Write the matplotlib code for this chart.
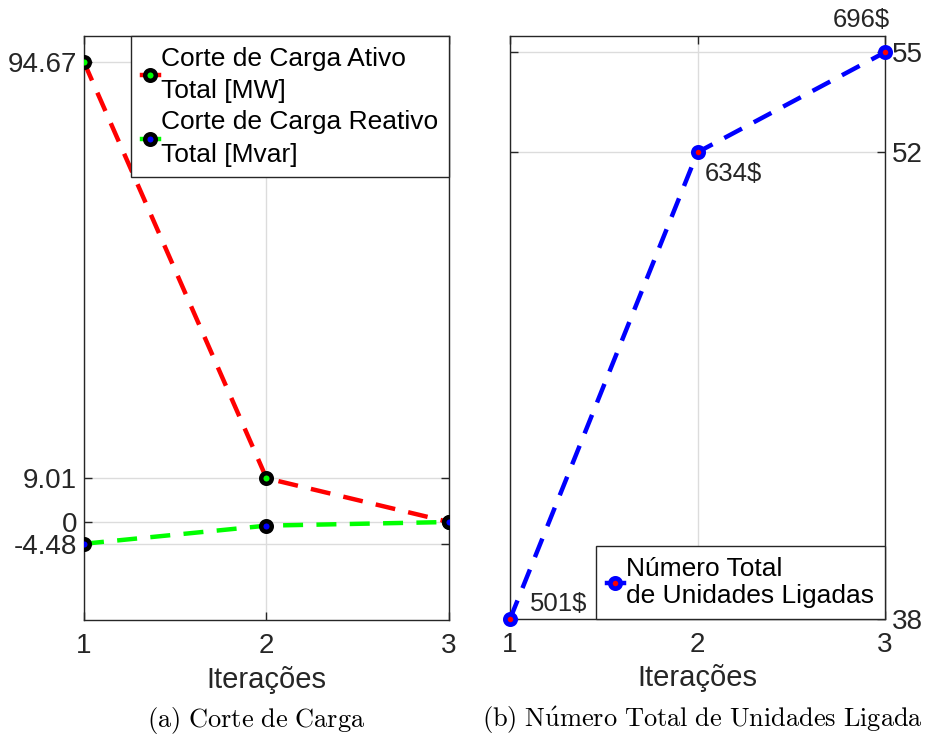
import matplotlib.pyplot as plt
from matplotlib.legend_handler import HandlerLine2D

plt.rcParams['font.family'] = ['Liberation Sans', 'DejaVu Sans']
plt.rcParams['mathtext.fontset'] = 'cm'

# dados
iteracoes = [1, 2, 3]
corte_ativo = [94.67, 9.01, 0]
corte_reativo = [-4.48, -0.75, 0]
unidades = [38, 52, 55]
custos = ['501$', '634$', '696$']

yticks_a = [-4.48, 0, 9.01, 94.67]
yticks_a_lbl = ['-4.48', '0', '9.01', '94.67']
yticks_b = [38, 52, 55]

txt = '#262626'
eixo = '#262626'


# marcador no fim do segmento, como na legenda do MATLAB
class HandlerMarcadorFim(HandlerLine2D):
    def get_xdata(self, legend, xdescent, ydescent, width, height, fontsize):
        xd = [-xdescent, -xdescent + width]
        xm = [-xdescent + width * 0.78]
        return xd, xm


def linha_solida(h, orig):
    h.update_from(orig)
    h.set_linestyle('-')


fig = plt.figure(figsize=(9.25, 7.4), dpi=100)
ax1 = fig.add_axes([0.0908, 0.162, 0.3946, 0.789])
ax2 = fig.add_axes([0.5514, 0.1635, 0.4054, 0.7875])

# (a) corte de carga
ax1.plot(iteracoes, corte_ativo, '--', color='red', lw=3.2, dashes=(4.5, 3),
         marker='o', ms=7.6, mfc='#00ff00', mec='black', mew=3.2,
         label='Corte de Carga Ativo\nTotal [MW]', zorder=3)
ax1.plot(iteracoes, corte_reativo, '--', color='#00ff00', lw=3.2, dashes=(4.5, 3),
         marker='o', ms=7.6, mfc='blue', mec='black', mew=3.2,
         label='Corte de Carga Reativo\nTotal [Mvar]', zorder=3)
ax1.set_xlim(1, 3)
ax1.set_ylim(-20.2, 100)
ax1.set_xticks(iteracoes)
ax1.set_yticks(yticks_a)
ax1.set_yticklabels(yticks_a_lbl)
ax1.set_xlabel('Iterações', fontsize=21, color=txt, labelpad=5)

hm = HandlerMarcadorFim(numpoints=1, update_func=linha_solida)
leg1 = ax1.legend(loc='upper right', fontsize=19, handlelength=0.65,
                  handletextpad=0.1, borderaxespad=0, fancybox=False,
                  framealpha=1, borderpad=0.4, labelspacing=0.25,
                  handler_map={plt.Line2D: hm})
leg1.get_frame().set_edgecolor(eixo)
for t in leg1.get_texts():
    t.set_linespacing(1.45)

# (b) numero de unidades
ax2.plot(iteracoes, unidades, '--', color='blue', lw=3.2, dashes=(4.5, 3),
         marker='o', ms=7.4, mfc='red', mec='blue', mew=3.4,
         label='Número Total\nde Unidades Ligadas', zorder=3, clip_on=False)
ax2.set_xlim(1, 3)
ax2.set_ylim(38, 55.48)
ax2.set_xticks(iteracoes)
ax2.set_yticks(yticks_b)
ax2.yaxis.tick_right()
ax2.set_xlabel('Iterações', fontsize=21, color=txt, labelpad=5)

offs = [(20, 15, 'left'), (7, -22, 'left'), (5, 32, 'right')]
for x, y, c, (dx, dy, ha) in zip(iteracoes, unidades, custos, offs):
    ax2.annotate(c, (x, y), xytext=(dx, dy), textcoords='offset pixels',
                 ha=ha, va='center', fontsize=18.5, color=txt,
                 annotation_clip=False)

leg2 = ax2.legend(loc='lower right', fontsize=19, handlelength=0.65,
                  handletextpad=0.1, borderaxespad=0, fancybox=False,
                  framealpha=1, borderpad=0.4, labelspacing=0.1,
                  handler_map={plt.Line2D: hm})
leg2.get_frame().set_edgecolor(eixo)
for t in leg2.get_texts():
    t.set_linespacing(1.2)

for ax in (ax1, ax2):
    ax.grid(True, color='#dcdcdc', lw=1)
    ax.set_axisbelow(True)
    ax.tick_params(direction='in', length=6, width=1, colors=eixo,
                   labelsize=20, labelcolor=txt, top=True, left=True,
                   right=True, pad=5)
    ax.tick_params(axis='x', pad=9)
    for s in ax.spines.values():
        s.set_color(eixo)
        s.set_linewidth(1)

ax2.tick_params(labelleft=False, labelright=True)

# legendas das figuras
cap = dict(fontsize=19, ha='center', va='center')
fig.text(0.277, 0.026, r'$\mathrm{(a)\ Corte\ de\ Carga}$', **cap)
fig.text(0.759, 0.026, r'$\mathrm{(b)\ N\acute{u}mero\ Total\ de\ Unidades\ Ligada}$', **cap)

fig.savefig('out.png', dpi=100)
